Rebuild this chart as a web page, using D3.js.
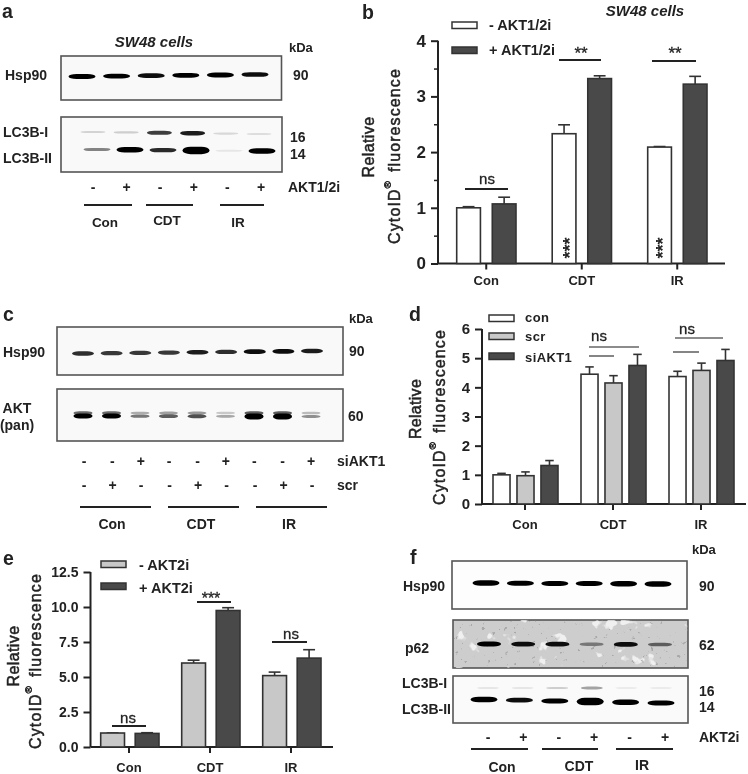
<!DOCTYPE html>
<html><head><meta charset="utf-8">
<script src="https://cdnjs.cloudflare.com/ajax/libs/d3/7.8.5/d3.min.js"></script>
<style>
html,body{margin:0;padding:0;background:#fff}
svg{display:block}
text{font-family:"Liberation Sans",Arial,sans-serif;fill:#222}
</style></head><body>
<svg id="fig" width="748" height="774"></svg>
<script>
// ---------- bar chart data ----------
const groups = ["Con","CDT","IR"];
const bMinus = [1.0,2.33,2.09],  bMinusErr = [0.02,0.16,0.01];
const bPlus  = [1.07,3.32,3.22], bPlusErr  = [0.12,0.05,0.14];
const bTicks = [0,1,2,3,4];
const dCon = [1.0,4.45,4.37],  dConErr = [0.05,0.25,0.18];
const dScr = [0.97,4.15,4.58], dScrErr = [0.13,0.25,0.25];
const dSi  = [1.32,4.75,4.92], dSiErr  = [0.17,0.38,0.38];
const dTicks = [0,1,2,3,4,5,6];
const eMinus = [1.0,6.0,5.1],   eMinusErr = [0.0,0.2,0.25];
const ePlus  = [0.97,9.75,6.35],ePlusErr  = [0.05,0.2,0.6];
const eTicks = [0,2.5,5,7.5,10,12.5];
// ---------- blot band intensities (0-1), one per lane ----------
const aHsp = [1,0.95,0.9,0.95,1,0.9];
const aLc1 = [0.12,0.14,0.72,0.85,0.1,0.08];
const aLc2 = [0.45,1.05,0.8,1.25,0.04,1.05];
const cHsp = [0.78,0.75,0.75,0.75,0.85,0.78,0.9,0.9,0.85];
const cAkt = [1,1,0.5,0.6,0.65,0.3,1.1,1.1,0.4];
const fHsp = [1.05,1,1,1,1.05,1.05];
const fP62 = [0.95,0.9,0.9,0.5,0.9,0.6];
const fLc1 = [0.04,0.04,0.14,0.32,0.02,0.02];
const fLc2 = [1.05,0.9,1,1.25,1.05,1];
const aSign = ["-","+","-","+","-","+"];
const cSi  = ["-","-","+","-","-","+","-","-","+"];
const cScr = ["-","+","-","-","+","-","-","+","-"];

const svg = d3.select("#fig");
const defs = svg.append("defs");
defs.append("filter").attr("id","soft").attr("x","-5%").attr("y","-5%").attr("width","110%").attr("height","110%")
  .append("feGaussianBlur").attr("stdDeviation",0.45);
defs.append("filter").attr("id","band").attr("x","-20%").attr("y","-150%").attr("width","140%").attr("height","400%")
  .append("feGaussianBlur").attr("stdDeviation",0.7);
const sp = defs.append("filter").attr("id","speck").attr("x",0).attr("y",0).attr("width","100%").attr("height","100%");
sp.append("feTurbulence").attr("type","fractalNoise").attr("baseFrequency",0.22).attr("numOctaves",3).attr("seed",7).attr("result","n");
sp.append("feColorMatrix").attr("in","n").attr("type","matrix").attr("values","0 0 0 0 0.2  0 0 0 0 0.2  0 0 0 0 0.2  12 0 0 0 -8.4");
const wp = defs.append("filter").attr("id","patch").attr("x",0).attr("y",0).attr("width","100%").attr("height","100%");
wp.append("feTurbulence").attr("type","fractalNoise").attr("baseFrequency",0.06).attr("numOctaves",3).attr("seed",11).attr("result","n");
wp.append("feColorMatrix").attr("in","n").attr("type","matrix").attr("values","0 0 0 0 1  0 0 0 0 1  0 0 0 0 1  14 0 0 0 -9.3");
const root = svg.append("g").attr("filter","url(#soft)");
root.append("rect").attr("width",748).attr("height",774).attr("fill","#fff");

function txt(x,y,s,o={}){
  return root.append("text").attr("x",x).attr("y",y).attr("dominant-baseline","central")
    .attr("text-anchor",o.anchor||"start").attr("font-size",o.size||14)
    .attr("font-weight",o.weight||"bold").attr("font-style",o.style||"normal").text(s);
}
function yLabel(x,yc,spacing,parts){
  const size=16;
  const t = root.append("text").attr("transform",`translate(${x},${yc}) rotate(-90)`)
    .attr("text-anchor","middle").attr("dominant-baseline","central")
    .attr("font-size",size).attr("letter-spacing",spacing).attr("stroke","#222").attr("stroke-width",0.5);
  parts.forEach(p=>{
    const s=t.append("tspan").text(p.t);
    if(p.sup){s.attr("font-size",size*0.62).attr("dy",-size*0.42);}
    if(p.after){s.attr("dy",size*0.42).attr("dx",size*0.5);}
  });
}

function barChart(cfg){
  const g = root.append("g");
  const y = d3.scaleLinear().domain(cfg.domain).range([cfg.y0,cfg.yTop]);
  const x = d3.scaleBand().domain(groups).range(cfg.xr).paddingInner(0).paddingOuter(0);
  const inner = d3.scaleBand().domain(d3.range(cfg.series.length)).range(cfg.innerR).paddingInner(cfg.innerPad).paddingOuter(0);
  const xA = d3.axisBottom(x).tickSize(cfg.xTick).tickPadding(100).tickFormat("");
  const ax = g.append("g").attr("transform",`translate(0,${cfg.y0})`).call(xA);
  ax.select(".domain").attr("d",`M${cfg.axisX},0H${cfg.xEnd}`).attr("stroke","#222").attr("stroke-width",2);
  ax.selectAll("line").attr("stroke","#222").attr("stroke-width",2);
  groups.forEach(c=>txt(x(c)+x.bandwidth()/2,cfg.y0+cfg.xLabDy,c,{anchor:"middle",size:cfg.xSize}));
  const yA = d3.axisLeft(y).tickValues(cfg.ticks).tickSize(7).tickPadding(5).tickFormat(cfg.fmt||d3.format("d"));
  const ay = g.append("g").attr("transform",`translate(${cfg.axisX},0)`).call(yA);
  ay.select(".domain").attr("stroke","#222").attr("stroke-width",2).attr("d",`M0,${cfg.y0}V${cfg.yTop}`);
  ay.selectAll("line").attr("stroke","#222").attr("stroke-width",2);
  ay.selectAll("text").attr("font-size",cfg.tickSize).attr("font-weight","bold").attr("font-family",'"Liberation Sans",Arial,sans-serif');
  if(cfg.minor){
    const yM = d3.axisLeft(y).tickValues(cfg.minor).tickSize(4).tickFormat("");
    const am = g.append("g").attr("transform",`translate(${cfg.axisX},0)`).call(yM);
    am.select(".domain").remove();
    am.selectAll("line").attr("stroke","#222").attr("stroke-width",1.5);
  }
  cfg.series.forEach((s,i)=>{
    const sg=g.append("g");
    const rows=groups.map((c,k)=>({c,v:s.values[k],e:s.err[k]}));
    const bx=d=>x(d.c)+inner(i);
    const w=inner.bandwidth();
    sg.selectAll("line.e").data(rows).join("line").attr("x1",d=>bx(d)+w/2).attr("x2",d=>bx(d)+w/2)
      .attr("y1",d=>y(d.v)).attr("y2",d=>y(d.v+d.e)).attr("stroke","#333").attr("stroke-width",1.6);
    sg.selectAll("line.c").data(rows).join("line").attr("x1",d=>bx(d)+w*0.25).attr("x2",d=>bx(d)+w*0.75)
      .attr("y1",d=>y(d.v+d.e)).attr("y2",d=>y(d.v+d.e)).attr("stroke","#333").attr("stroke-width",1.6);
    sg.selectAll("rect").data(rows).join("rect").attr("x",bx).attr("width",w)
      .attr("y",d=>y(d.v)).attr("height",d=>y(0)-y(d.v))
      .attr("fill",s.fill).attr("stroke","#333").attr("stroke-width",1.6);
  });
  return {x,y};
}
function legend(x,w,items,tx,size,spacing){
  items.forEach(it=>{
    root.append("rect").attr("x",x).attr("y",it.y).attr("width",w).attr("height",it.h||6.5)
      .attr("fill",it.fill).attr("stroke","#333").attr("stroke-width",1.5);
    txt(tx,it.ty,it.t,{size}).attr("letter-spacing",spacing||0);
  });
}
function sig(x1,x2,y,label,lx,ly,size,color){
  root.append("line").attr("x1",x1).attr("x2",x2).attr("y1",y).attr("y2",y)
    .attr("stroke",color||"#222").attr("stroke-width",color?1.6:2);
  if(label) txt(lx,ly,label,{anchor:"middle",size:size||15,weight:"normal"}).attr("stroke","#222").attr("stroke-width",0.3);
}

// ---------- blots ----------
const bandTone = d3.scaleLinear().domain([0,0.5,0.95]).range(["#f0f0f0","#777","#030303"]).clamp(true);
const bandHeight = d3.scaleLinear().domain([0,1,1.3]).range([1.8,5,8]);
function box(x0,x1,y0,y1,fill){
  root.append("rect").attr("x",x0).attr("y",y0).attr("width",x1-x0).attr("height",y1-y0)
    .attr("fill",fill||"#f9f9f9").attr("stroke","#555").attr("stroke-width",1.6);
}
function bands(vals,x0,x1,yFrom,yTo,w){
  const lane=d3.scalePoint().domain(d3.range(vals.length)).range([x0,x1]);
  const yy=d3.scaleLinear().domain([0,vals.length-1]).range([yFrom,yTo]);
  root.append("g").attr("filter","url(#band)").selectAll("rect").data(vals).join("rect")
    .attr("x",(d,i)=>lane(i)-w/2).attr("width",w)
    .attr("y",(d,i)=>yy(i)-bandHeight(d)/2).attr("height",d=>bandHeight(d))
    .attr("rx",w*0.3).attr("ry",d=>bandHeight(d)/2).attr("fill",d=>bandTone(d));
}
function signs(vals,x0,x1,y){
  const lane=d3.scalePoint().domain(d3.range(vals.length)).range([x0,x1]);
  vals.forEach((s,i)=>txt(lane(i),y,s,{anchor:"middle",size:14}));
}
function rules(y,spans){
  spans.forEach(s=>root.append("line").attr("x1",s[0]).attr("x2",s[1]).attr("y1",y).attr("y2",y).attr("stroke","#222").attr("stroke-width",1.8));
}

// panel letters
[["a",2,11],["b",362,12],["c",3,314],["d",409,314],["e",3,558],["f",410,557]]
  .forEach(l=>txt(l[1],l[2],l[0],{size:19.5}));

// ---- panel a
txt(154,41,"SW48 cells",{anchor:"middle",size:15,style:"italic"});
txt(289,47,"kDa",{size:13});
box(61,281.5,56,100); box(61,282,117,172);
bands(aHsp,82,255,76.5,74.5,27);
bands(aLc1,93,259,132,134,25);
bands(aLc2,97,262,149.5,151,27);
txt(5,75,"Hsp90"); txt(3,132,"LC3B-I"); txt(3,158,"LC3B-II");
txt(293,75,"90"); txt(290,137,"16"); txt(290,154,"14"); txt(288,187,"AKT1/2i");
signs(aSign,93,261,187);
rules(205,[[84,132],[146,193],[220,264]]);
txt(105,222,"Con",{anchor:"middle",size:13.5}); txt(167,220,"CDT",{anchor:"middle",size:13.5}); txt(238,222,"IR",{anchor:"middle",size:13.5});

// ---- panel b
barChart({domain:[0,4],y0:263.5,yTop:40.7,xr:[438.5,725],innerR:[18.2,77.5],innerPad:0.333,
  axisX:438,xEnd:725,xTick:6,xLabDy:17,xSize:13,tickSize:17,ticks:bTicks,minor:[0.5,1.5,2.5,3.5],
  series:[{values:bMinus,err:bMinusErr,fill:"#fff"},{values:bPlus,err:bPlusErr,fill:"#4a4a4a"}]});
txt(645,10,"SW48 cells",{anchor:"middle",size:15,style:"italic"});
legend(452,25,[{y:22,fill:"#fff",t:"- AKT1/2i",ty:25},{y:47,fill:"#4a4a4a",t:"+ AKT1/2i",ty:50}],489,14.5);
sig(465,508,189,"ns",487,178,15);
sig(559,601,60,"**",581,53,17);
sig(652,696,61,"**",675,53,17);
[[567,248],[660,248]].forEach(p=>{
  root.append("text").attr("transform",`translate(${p[0]},${p[1]}) rotate(-90)`).attr("text-anchor","middle")
   .attr("dominant-baseline","central").attr("font-size",18).attr("font-weight","bold").attr("dy",3).text("***");
});
yLabel(368,147,0.4,[{t:"Relative"}]);
yLabel(394,156,1.1,[{t:"CytoID"},{t:"®",sup:true},{t:"fluorescence",after:true}]);

// ---- panel c
txt(349,318,"kDa",{size:13});
box(57,343,327,375); box(57,343,389,441);
bands(cHsp,83,312,353.5,351,22);
bands(cAkt.map(v=>v*0.55),83,311,413,413,19);
bands(cAkt,83,311,416,416.5,19);
txt(3,352,"Hsp90"); txt(17,408,"AKT",{anchor:"middle"}); txt(17,425,"(pan)",{anchor:"middle"});
txt(349,351,"90"); txt(348,416,"60"); txt(337,461,"siAKT1"); txt(337,485,"scr");
signs(cSi,84,311,461); signs(cScr,84,312,485);
rules(507,[[80,151],[168,239],[256,327]]);
txt(112,524,"Con",{anchor:"middle"}); txt(201,524,"CDT",{anchor:"middle"}); txt(289,524,"IR",{anchor:"middle"});

// ---- panel d
barChart({domain:[0,6],y0:504,yTop:329,xr:[481,745],innerR:[12,77],innerPad:0.29,
  axisX:482,xEnd:746,xTick:6,xLabDy:20,xSize:13,tickSize:15,ticks:dTicks,
  series:[{values:dCon,err:dConErr,fill:"#fff"},{values:dScr,err:dScrErr,fill:"#c8c8c8"},{values:dSi,err:dSiErr,fill:"#4a4a4a"}]});
legend(489,25,[{y:315,fill:"#fff",t:"con",ty:317},{y:333,fill:"#c8c8c8",t:"scr",ty:336},{y:353,fill:"#4a4a4a",t:"siAKT1",ty:357}],525,13,0.4);
sig(589,639,347,"ns",599,335,15,"#666");
sig(589,614,356,null,0,0,15,"#666");
sig(675,723,338,"ns",687,328,15,"#666");
sig(673,699,352,null,0,0,15,"#666");
yLabel(415,409,0.3,[{t:"Relative"}]);
yLabel(439,417,1.1,[{t:"CytoID"},{t:"®",sup:true},{t:"fluorescence",after:true}]);

// ---- panel e
barChart({domain:[0,12.5],y0:747,yTop:572,xr:[88.5,331.5],innerR:[12.2,70.5],innerPad:0.31,
  axisX:90.5,xEnd:333,xTick:6,xLabDy:20,xSize:13,tickSize:14,ticks:eTicks,fmt:d3.format(".1f"),
  series:[{values:eMinus,err:eMinusErr,fill:"#c8c8c8"},{values:ePlus,err:ePlusErr,fill:"#4a4a4a"}]});
legend(101,25,[{y:561,fill:"#c8c8c8",t:"- AKT2i",ty:565},{y:583,fill:"#4a4a4a",t:"+ AKT2i",ty:588}],139,14.5);
sig(112,146,726,"ns",128,717,15);
sig(197,231,602,"***",211,598,16);
sig(272,307,642,"ns",291,633,15);
yLabel(13,656,0.4,[{t:"Relative"}]);
yLabel(35,661,1.1,[{t:"CytoID"},{t:"®",sup:true},{t:"fluorescence",after:true}]);

// ---- panel f
txt(692,549,"kDa",{size:13});
box(452,687,561,609,"#fdfdfd");
box(453,688,620,668,"#cdcdcd");
root.append("rect").attr("x",453.5).attr("y",620.5).attr("width",234).attr("height",47).attr("fill","#fff").attr("filter","url(#patch)").attr("opacity",0.7);
root.append("rect").attr("x",453.5).attr("y",620.5).attr("width",234).attr("height",47).attr("fill","#000").attr("filter","url(#speck)").attr("opacity",0.45);
box(453,688,676,723,"#fafafa");
bands(fHsp,486,658,583,584,27);
bands(fP62,489,660,644,644.5,24);
bands(fLc1,488,661,688,688,22);
bands(fLc2,484,661,699.5,703,27);
txt(403,586,"Hsp90"); txt(405,648,"p62"); txt(402,683,"LC3B-I"); txt(402,709,"LC3B-II");
txt(699,586,"90"); txt(699,645,"62"); txt(699,691,"16"); txt(699,707,"14"); txt(699,737,"AKT2i");
signs(aSign,488,665,737);
rules(749,[[471,528],[542,598],[616,673]]);
txt(502,767,"Con",{anchor:"middle"}); txt(579,766,"CDT",{anchor:"middle"}); txt(642,765,"IR",{anchor:"middle"});
</script>
</body></html>
